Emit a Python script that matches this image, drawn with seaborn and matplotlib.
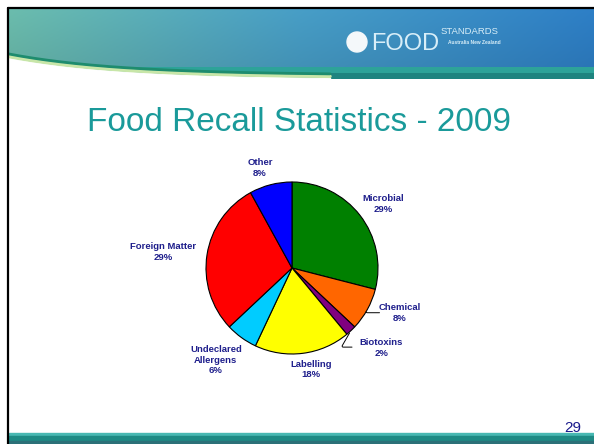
import numpy as np
import seaborn as sns
import matplotlib.pyplot as plt
from matplotlib.patches import Rectangle, Circle

# data
categories = ["Microbial", "Chemical", "Biotoxins", "Labelling",
              "Undeclared\nAllergens", "Foreign Matter", "Other"]
shares = [29, 8, 2, 18, 6, 29, 8]
slice_colors = ["#008000", "#FF6600", "#800080", "#FFFF00",
                "#00CCFF", "#FF0000", "#0000FF"]
title = "Food Recall Statistics - 2009"
page_no = "29"

sns.set_style("white")
plt.rcParams["font.family"] = ["Liberation Sans", "DejaVu Sans"]

W, H = 594, 444
fig = plt.figure(figsize=(W / 100, H / 100), dpi=100)
fig.patch.set_facecolor("white")

# slide background layer (pixel coords)
bg = fig.add_axes([0, 0, 1, 1], zorder=0)
bg.set_xlim(0, W)
bg.set_ylim(H, 0)
bg.axis("off")

# header banner gradient
gx = np.linspace(0, 1, 300)
gy = np.linspace(0, 1, 70)
left = np.array([0.42, 0.74, 0.68])
mid = np.array([0.28, 0.62, 0.78])
right = np.array([0.18, 0.50, 0.78])
row = np.where(gx[:, None] < 0.5,
               left + (mid - left) * (gx[:, None] / 0.5),
               mid + (right - mid) * ((gx[:, None] - 0.5) / 0.5))
img = np.repeat(row[None, :, :], len(gy), axis=0)
shade = 1 - 0.10 * gy[:, None, None]
img = img * shade
img[58:, :, :] = np.array([0.18, 0.64, 0.60])
img[64:, :, :] = np.array([0.12, 0.52, 0.50])
bg.imshow(img, extent=[9, W, 79, 9], aspect="auto", zorder=1)

# white wave on the lower left
xs = np.linspace(9, 330, 200)
ys = 58 + 21 * (1 - np.exp(-(xs - 9) / 110))
bg.fill_between(xs, ys, 82, color="white", zorder=2)
bg.plot(xs, ys - 1.5, color="#C8E6A8", lw=2.5, zorder=2)
bg.plot(xs, ys - 4, color="#1E8C6E", lw=2.0, zorder=2)

# logo
bg.add_patch(Circle((357, 42), 10, color="#F4F8FA", zorder=3))
bg.text(371, 44, "FOOD", color="#D8EEF8", fontsize=17, va="center",
        ha="left", zorder=3, fontweight="light")
bg.text(441, 32, "STANDARDS", color="#D8EEF8", fontsize=6.8, va="center",
        ha="left", zorder=3)
bg.text(448, 43, "Australia New Zealand", color="#D8EEF8", fontsize=3.5,
        va="center", ha="left", zorder=3, fontweight="bold")

# frame lines
bg.plot([8, W], [8, 8], color="black", lw=1.6, zorder=4)
bg.plot([8, 8], [8, H], color="black", lw=1.6, zorder=4)

# bottom bar
bg.add_patch(Rectangle((9, 433), W, 3, color="#48B8B2", zorder=2))
bg.add_patch(Rectangle((9, 436), W, 5, color="#1E8A84", zorder=2))
bg.add_patch(Rectangle((9, 441), W, 3, color="#2C7078", zorder=2))

bg.text(299, 122, title, color="#1A9A9A", fontsize=24, ha="center",
        va="center", zorder=3)
bg.text(573, 432, page_no, color="#1A1A8C", fontsize=11, ha="center",
        va="baseline", zorder=3)

# pie
cx, cy, r = 292, 268, 86
half = 150
ax = fig.add_axes([(cx - half) / W, (H - cy - half) / H, 2 * half / W, 2 * half / H],
                  zorder=2)
wedges, _ = ax.pie(shares, colors=slice_colors, startangle=90, counterclock=False,
                   wedgeprops=dict(edgecolor="black", linewidth=0.8))
ax.set_xlim(-half / r, half / r)
ax.set_ylim(-half / r, half / r)
ax.axis("off")

# label placement: (angle offset from wedge middle, radial distance)
label_pos = [(-2.7, 1.29), (6, 1.36), (5, 1.39), (3.4, 1.20),
             (-3.6, 1.39), (2, 1.51), (3.3, 1.22)]
for w, name, pct, (dang, dist) in zip(wedges, categories, shares, label_pos):
    mid_ang = (w.theta1 + w.theta2) / 2 + dang
    x = dist * np.cos(np.radians(mid_ang))
    y = dist * np.sin(np.radians(mid_ang))
    ax.text(x, y, f"{name}\n{pct}%", ha="center", va="center", fontsize=6.8,
            fontweight="bold", color="#1F1F8C", linespacing=1.25, clip_on=False)

# leader lines for the two small slices
for i, end in [(1, (1.05, -0.52)), (2, (0.73, -0.92))]:
    w = wedges[i]
    a = np.radians((w.theta1 + w.theta2) / 2)
    ax.annotate("", xy=(np.cos(a), np.sin(a)), xytext=end,
                arrowprops=dict(arrowstyle="-", color="black", lw=0.7,
                                connectionstyle="angle,angleA=0,angleB=60,rad=2"))

fig.savefig("out.png", dpi=100)
